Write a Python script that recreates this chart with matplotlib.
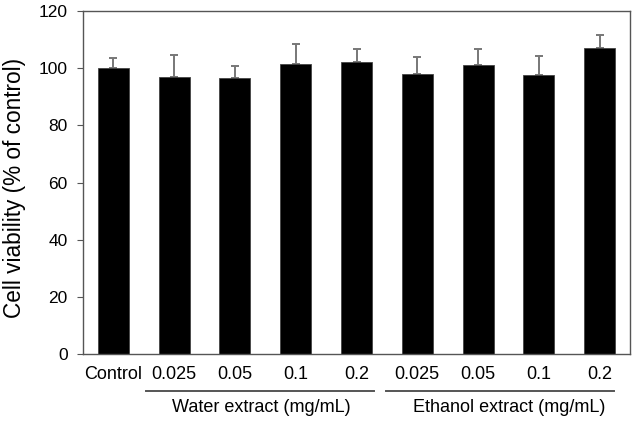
import matplotlib
matplotlib.use("Agg")
import matplotlib.pyplot as plt
import numpy as np

categories = ["Control", "0.025", "0.05", "0.1", "0.2", "0.025", "0.05", "0.1", "0.2"]
viability = [100.0, 96.8, 96.5, 101.4, 102.1, 98.1, 101.0, 97.7, 107.0]
errors = [3.4, 7.9, 4.1, 7.2, 4.5, 5.7, 5.6, 6.7, 4.7]
groups = ["Water extract (mg/mL)", "Ethanol extract (mg/mL)"]
yticks = [0, 20, 40, 60, 80, 100, 120]

plt.rcParams['font.family'] = ['Liberation Sans', 'DejaVu Sans']

fig = plt.figure(figsize=(6.36, 4.24), dpi=100)
ax = fig.add_axes([0.1305, 0.1651, 0.8601, 0.8089])

x = np.arange(len(categories))
ax.bar(x, viability, width=0.51, color='black', edgecolor='#444444', linewidth=0.6, zorder=2)
ax.errorbar(x, viability, yerr=[np.zeros(len(errors)), errors], fmt='none',
            ecolor='#777777', elinewidth=1.4, capsize=3, capthick=1.4, zorder=1)

ax.set_xlim(-0.5, 8.5)
ax.set_ylim(0, 120)
ax.set_yticks(yticks)
ax.set_xticks(x)
ax.set_xticklabels(categories, fontsize=13)
ax.tick_params(axis='x', length=0, pad=8.5)
ax.tick_params(axis='y', direction='out', length=4, width=0.8, color='#555555', labelsize=12.5, pad=7)
for s in ax.spines.values():
    s.set_color('#555555')
    s.set_linewidth(1.0)

ax.set_ylabel("Cell viability (% of control)", fontsize=16.3)
ax.yaxis.set_label_coords(-0.1035, 0.484)

trans = ax.get_xaxis_transform()
ax.plot([0.54, 4.29], [-0.107, -0.107], transform=trans, color='#555555', lw=1.4, clip_on=False)
ax.plot([4.48, 8.23], [-0.107, -0.107], transform=trans, color='#555555', lw=1.4, clip_on=False)
ax.text(2.43, -0.157, groups[0], transform=trans, ha='center', va='center', fontsize=13)
ax.text(6.52, -0.157, groups[1], transform=trans, ha='center', va='center', fontsize=13)

fig.savefig("out.png", dpi=100)
